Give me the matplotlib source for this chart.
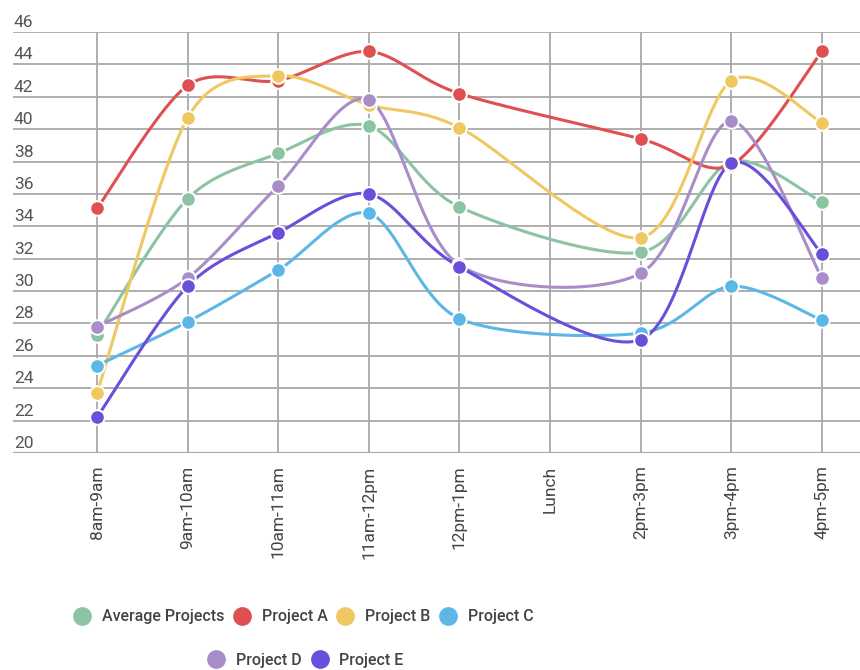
import numpy as np
import matplotlib
matplotlib.use("Agg")
import matplotlib.pyplot as plt
import matplotlib.transforms as mtransforms
from matplotlib.lines import Line2D

categories = ["8am-9am", "9am-10am", "10am-11am", "11am-12pm", "12pm-1pm",
              "Lunch", "2pm-3pm", "3pm-4pm", "4pm-5pm"]
series_names = ["Average Projects", "Project A", "Project B", "Project C",
                "Project D", "Project E"]
average = [27.3, 35.7, 38.5, 40.2, 35.2, None, 32.4, 38.0, 35.5]
project_a = [35.1, 42.7, 43.0, 44.8, 42.2, None, 39.4, 37.8, 44.8]
project_b = [23.7, 40.7, 43.3, 41.5, 40.1, None, 33.3, 43.0, 40.4]
project_c = [25.4, 28.1, 31.3, 34.8, 28.3, None, 27.4, 30.3, 28.2]
project_d = [27.8, 30.8, 36.5, 41.8, 31.6, None, 31.1, 40.5, 30.8]
project_e = [22.2, 30.3, 33.6, 36.0, 31.5, None, 27.0, 37.9, 32.3]
yticks = list(range(20, 47, 2))

colors = ["#8BC3A3", "#DE5052", "#F0C862", "#5CB7E6", "#A98DC9", "#6A4EDC"]
series = [average, project_a, project_b, project_c, project_d, project_e]

plt.rcParams["font.family"] = ["Roboto", "DejaVu Sans"]


def smooth(xs, ys, k=0.15, n=40):
    """Bezier curve through points, Catmull-Rom style control points."""
    pts = np.column_stack([xs, ys]).astype(float)
    out = [pts[:1]]
    for i in range(len(pts) - 1):
        p0 = pts[max(i - 1, 0)]
        p1, p2 = pts[i], pts[i + 1]
        p3 = pts[min(i + 2, len(pts) - 1)]
        c1 = p1 + (p2 - p0) * k
        c2 = p2 - (p3 - p1) * k
        t = np.linspace(0, 1, n)[1:, None]
        seg = ((1 - t) ** 3 * p1 + 3 * (1 - t) ** 2 * t * c1
               + 3 * (1 - t) * t ** 2 * c2 + t ** 3 * p2)
        out.append(seg)
    return np.vstack(out)


fig = plt.figure(figsize=(8.6, 6.7), dpi=100)
ax = fig.add_axes([13 / 860, 217 / 670, 847 / 860, 421 / 670])

for name, vals, color in zip(series_names, series, colors):
    xs = [i for i, v in enumerate(vals) if v is not None]
    ys = [v for v in vals if v is not None]
    curve = smooth(xs, ys)
    ax.plot(curve[:, 0], curve[:, 1], color=color, lw=2.2, zorder=3,
            solid_capstyle="round")
    ax.plot(xs, ys, "o", color=color, markersize=10.5, markeredgecolor="white",
            markeredgewidth=1.4, zorder=4, label=name)

ax.set_xlim(-0.927, 8.42)
ax.set_ylim(20, 46)
ax.set_yticks(yticks)
ax.set_xticks(range(len(categories)))
ax.set_xticklabels(categories, rotation=90, fontsize=12.5, color="#444444")
ax.tick_params(axis="x", length=0, pad=9)
ax.tick_params(axis="y", length=0, labelleft=False)
ax.grid(True, color="#a8a8a8", lw=1.3, zorder=0)
for spine in ax.spines.values():
    spine.set_visible(False)
ax.axhline(20, color="#a8a8a8", lw=1.6, zorder=1)

label_tf = mtransforms.offset_copy(
    mtransforms.blended_transform_factory(ax.transAxes, ax.transData),
    fig=fig, x=1, y=5, units="dots")
for val in yticks:
    ax.text(0, val, str(val), transform=label_tf, ha="left", va="baseline",
            fontsize=12.5, color="#555555", clip_on=False)

handles = [Line2D([], [], marker="o", linestyle="none", markersize=13.5,
                  color=c, markeredgewidth=0) for c in colors]
legend_kw = dict(frameon=False, handlelength=1.0, handletextpad=0.75,
                 columnspacing=0.6, borderpad=0, loc="center",
                 prop={"family": "Roboto", "weight": "medium", "size": 11.5})
leg1 = fig.legend(handles[:4], series_names[:4], ncol=4,
                  bbox_to_anchor=(304 / 860, 1 - 617 / 670), **legend_kw)
for t in leg1.get_texts():
    t.set_color("#444444")
leg2 = fig.legend(handles[4:], series_names[4:], ncol=2,
                  bbox_to_anchor=(306 / 860, 1 - 660 / 670), **legend_kw)
for t in leg2.get_texts():
    t.set_color("#444444")

fig.savefig("out.png", dpi=100, facecolor="white")
